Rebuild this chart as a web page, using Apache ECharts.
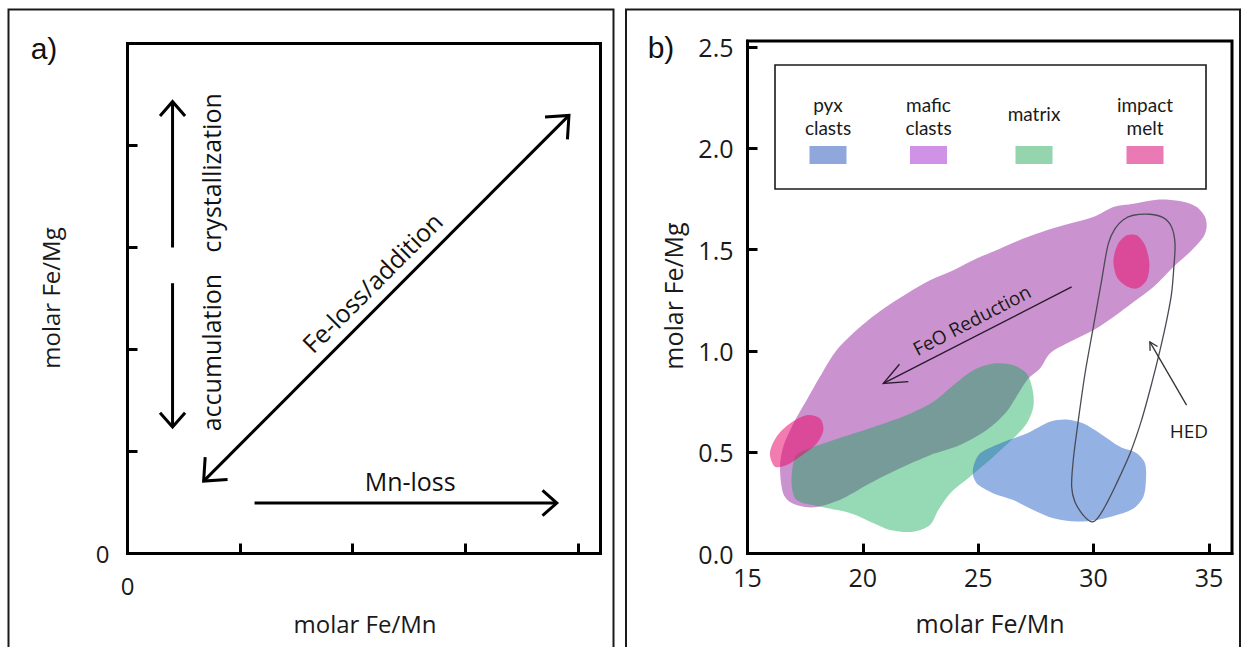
<!DOCTYPE html>
<html>
<head>
<meta charset="utf-8">
<script src="https://cdn.jsdelivr.net/npm/echarts@6/dist/echarts.min.js"></script>
<style>
  html, body { margin: 0; padding: 0; background: #fff; }
  #main { width: 1243px; height: 647px; }
</style>
</head>
<body>
<div id="main"></div>
<script>
// ---- panel a (schematic, axis units) ----
// arrows: x1, y1, x2, y2, double-headed?
var arrowsA = [
  [0.40, 3.00, 0.40, 4.43, 0],
  [0.40, 2.65, 0.40, 1.24, 0],
  [0.676, 0.71, 3.92, 4.295, 1],
  [1.128, 0.495, 3.812, 0.495, 0]
];
var notesA = ['crystallization', 'accumulation', 'Fe-loss/addition', 'Mn-loss'];
var notesAPos = [[0.74, 3.73], [0.74, 1.97], [2.17, 2.66], [2.51, 0.71]];
var notesAAngle = [90, 90, 45, 0];

// ---- panel b (molar Fe/Mn vs molar Fe/Mg) ----
var regionNames = ['pyx clasts', 'mafic clasts', 'matrix', 'impact melt'];

var maficClasts = [
  [34.90, 1.612], [34.76, 1.563], [34.18, 1.489], [33.46, 1.415], [32.59, 1.316],
  [31.73, 1.242], [30.86, 1.168], [30.00, 1.103], [28.98, 1.045], [28.11, 0.988],
  [27.68, 0.914], [27.17, 0.864], [26.74, 0.790], [26.23, 0.700], [25.37, 0.610],
  [24.21, 0.536], [22.91, 0.486], [21.61, 0.421], [20.31, 0.347], [19.15, 0.273],
  [18.14, 0.232], [17.49, 0.230], [16.84, 0.255], [16.54, 0.299], [16.41, 0.429],
  [16.55, 0.527], [16.99, 0.642], [17.56, 0.757], [18.14, 0.873], [18.86, 1.004],
  [19.88, 1.119], [20.89, 1.209], [21.90, 1.283], [22.91, 1.349], [23.92, 1.398],
  [24.93, 1.456], [25.94, 1.505], [26.96, 1.555], [27.97, 1.596], [28.98, 1.629],
  [29.99, 1.661], [30.86, 1.711], [31.73, 1.727], [32.74, 1.747], [33.75, 1.740],
  [34.47, 1.711], [34.83, 1.662]
];

var matrixArea = [
  [17.06, 0.478], [17.42, 0.508], [18.70, 0.560], [20.44, 0.624], [21.91, 0.684],
  [23.04, 0.748], [23.92, 0.831], [24.79, 0.905], [25.66, 0.938], [26.52, 0.930],
  [27.10, 0.889], [27.36, 0.807], [27.39, 0.725], [27.10, 0.642], [26.52, 0.569],
  [25.66, 0.478], [24.64, 0.379], [23.78, 0.297], [23.27, 0.215], [22.91, 0.141],
  [22.19, 0.108], [21.18, 0.117], [20.44, 0.151], [19.44, 0.200], [18.14, 0.232],
  [17.13, 0.264], [16.91, 0.347]
];

var pyxClasts = [
  [24.79, 0.429], [25.08, 0.495], [25.94, 0.544], [27.10, 0.593], [28.11, 0.651],
  [28.83, 0.662], [29.56, 0.642], [30.28, 0.593], [31.15, 0.527], [31.87, 0.495],
  [32.23, 0.445], [32.27, 0.363], [32.16, 0.281], [31.73, 0.223], [31.00, 0.190],
  [30.14, 0.166], [29.27, 0.158], [28.26, 0.174], [27.39, 0.215], [26.52, 0.264],
  [25.66, 0.297], [25.01, 0.338], [24.79, 0.379]
];

var impactMeltHigh = [
  [31.07, 1.530], [31.44, 1.571], [31.87, 1.571], [32.23, 1.522], [32.42, 1.431],
  [32.30, 1.349], [31.87, 1.308], [31.36, 1.325], [31.00, 1.366], [30.86, 1.448]
];
var impactMeltLow = [
  [15.97, 0.495], [16.26, 0.577], [16.84, 0.642], [17.56, 0.683], [18.14, 0.667],
  [18.29, 0.610], [18.00, 0.544], [17.27, 0.478], [16.70, 0.437], [16.19, 0.429]
];

var hedField = [
  [31.72, 1.670], [32.44, 1.675], [33.02, 1.658], [33.38, 1.612], [33.53, 1.530],
  [33.48, 1.415], [33.38, 1.283], [33.17, 1.152], [32.88, 1.004], [32.52, 0.840],
  [32.08, 0.659], [31.58, 0.494], [31.00, 0.347], [30.49, 0.231], [30.13, 0.169],
  [29.91, 0.157], [29.55, 0.190], [29.19, 0.256], [29.05, 0.330], [29.12, 0.462],
  [29.34, 0.659], [29.63, 0.889], [29.99, 1.119], [30.35, 1.349], [30.64, 1.530],
  [30.93, 1.604], [31.29, 1.648]
];

var feoArrow = [29.05, 1.316, 20.89, 0.840];
var feoLabel = [24.72, 1.152];
var hedArrow = [34.03, 0.733, 32.44, 1.045];
var hedLabel = [34.13, 0.606];

var xTicksA = [0, 4.2, 1];
var yTicksA = [0, 5, 1];
var xTicksB = [15, 36, 5];
var yTicksB = [0, 2.53, 0.5];

var FONT = '"Open Sans", "Noto Sans", sans-serif';

function arrowEl(p1, p2, len, lw, color, both, spread) {
  function head(tip, from) {
    var a = Math.atan2(tip[1] - from[1], tip[0] - from[0]);
    return {
      type: 'polyline',
      shape: { points: [
        [tip[0] - len * Math.cos(a - spread), tip[1] - len * Math.sin(a - spread)],
        tip,
        [tip[0] - len * Math.cos(a + spread), tip[1] - len * Math.sin(a + spread)]
      ] },
      style: { stroke: color, lineWidth: lw, fill: null, lineJoin: 'miter' }
    };
  }
  var kids = [
    { type: 'line', shape: { x1: p1[0], y1: p1[1], x2: p2[0], y2: p2[1] },
      style: { stroke: color, lineWidth: lw } },
    head(p2, p1)
  ];
  if (both) kids.push(head(p1, p2));
  return { type: 'group', children: kids };
}

function regionSeries(name, pts, fill, stroke, z) {
  return {
    name: name,
    type: 'custom',
    xAxisIndex: 1, yAxisIndex: 1,
    z: z, silent: true,
    data: pts,
    renderItem: function (params, api) {
      if (params.dataIndex !== 0) return null;
      var p = pts.map(function (d) { return api.coord(d); });
      return {
        type: 'polygon',
        shape: { points: p, smooth: 0.3 },
        style: stroke ? { fill: null, stroke: stroke, lineWidth: 1.3 } : { fill: fill }
      };
    }
  };
}

function axisCommon(grid, range, labelFn, margin, fontSize) {
  return {
    type: 'value', gridIndex: grid,
    min: range[0], max: range[1], interval: range[2],
    axisLine: { show: true, onZero: false, lineStyle: { color: '#000', width: 3 } },
    axisTick: { show: true, inside: true, length: 10, lineStyle: { color: '#000', width: 3 } },
    axisLabel: { formatter: labelFn, margin: margin, color: '#1a1a1a',
      fontSize: fontSize, fontFamily: FONT, showMaxLabel: false },
    splitLine: { show: false }
  };
}

var chart = echarts.init(document.getElementById('main'), null, { renderer: 'svg' });

var legendX = [828, 928.5, 1034, 1145];
var legendColors = ['#8fa7da', '#cf92e6', '#94d5ae', '#e97ab3'];
var legendLines = [['pyx', 'clasts'], ['mafic', 'clasts'], ['matrix'], ['impact', 'melt']];

var graphics = [
  { type: 'rect', shape: { x: 8.5, y: 9.5, width: 605, height: 700 },
    style: { fill: null, stroke: '#1a1a1a', lineWidth: 2 } },
  { type: 'rect', shape: { x: 626, y: 9.5, width: 614, height: 700 },
    style: { fill: null, stroke: '#1a1a1a', lineWidth: 2 } },
  { type: 'text', x: 44, y: 48, style: { text: 'a)', font: '30px "Liberation Sans", Arial, sans-serif',
    fill: '#111', align: 'center', verticalAlign: 'middle' } },
  { type: 'text', x: 661, y: 47, style: { text: 'b)', font: '30px "Liberation Sans", Arial, sans-serif',
    fill: '#111', align: 'center', verticalAlign: 'middle' } },
  { type: 'text', x: 365, y: 623, style: { text: 'molar Fe/Mn', font: '24px ' + FONT,
    fill: '#1a1a1a', align: 'center', verticalAlign: 'middle' } },
  { type: 'text', x: 50, y: 298, rotation: Math.PI / 2, style: { text: 'molar Fe/Mg', font: '24px ' + FONT,
    fill: '#1a1a1a', align: 'center', verticalAlign: 'middle' } },
  { type: 'text', x: 990, y: 623, style: { text: 'molar Fe/Mn', font: '25px ' + FONT,
    fill: '#1a1a1a', align: 'center', verticalAlign: 'middle' } },
  { type: 'text', x: 673, y: 296, rotation: Math.PI / 2, style: { text: 'molar Fe/Mg', font: '25px ' + FONT,
    fill: '#1a1a1a', align: 'center', verticalAlign: 'middle' } },
  { type: 'rect', shape: { x: 775, y: 65, width: 431, height: 124 },
    style: { fill: '#fff', stroke: '#1a1a1a', lineWidth: 1.6 } }
];
legendX.forEach(function (cx, i) {
  graphics.push({ type: 'rect', shape: { x: cx - 18.5, y: 146, width: 37, height: 18 },
    style: { fill: legendColors[i] } });
  var lines = legendLines[i];
  lines.forEach(function (t, k) {
    var y = lines.length === 1 ? 113.5 : 104 + k * 23.5;
    graphics.push({ type: 'text', x: cx, y: y,
      style: { text: t, font: '19px Lato, ' + FONT, fill: '#1a1a1a', align: 'center', verticalAlign: 'middle' } });
  });
});

var option = {
  backgroundColor: '#fff',
  animation: false,
  grid: [
    { left: 127.5, top: 43.5, width: 473, height: 510, show: true,
      borderColor: '#000', borderWidth: 3, containLabel: false },
    { left: 747.5, top: 41, width: 484.5, height: 512.6, show: true,
      borderColor: '#000', borderWidth: 3, containLabel: false }
  ],
  xAxis: [
    axisCommon(0, xTicksA, function (v) { return v === 0 ? '0' : ''; }, 20, 24),
    axisCommon(1, xTicksB, function (v) { return v % 5 === 0 ? String(v) : ''; }, 11, 25)
  ],
  yAxis: [
    axisCommon(0, yTicksA, function (v) { return v === 0 ? '0' : ''; }, 18, 24),
    axisCommon(1, yTicksB, function (v) {
      return Math.abs(v * 2 - Math.round(v * 2)) < 1e-6 ? v.toFixed(1) : '';
    }, 14, 25)
  ],
  graphic: graphics,
  series: [
    {
      name: 'process arrows', type: 'custom', xAxisIndex: 0, yAxisIndex: 0, silent: true,
      data: arrowsA,
      renderItem: function (params, api) {
        var p1 = api.coord([api.value(0), api.value(1)]);
        var p2 = api.coord([api.value(2), api.value(3)]);
        var diag = api.value(4) === 1;
        return arrowEl(p1, p2, diag ? 24 : 19, 3, '#000', diag, 0.72);
      }
    },
    {
      name: 'process notes', type: 'custom', xAxisIndex: 0, yAxisIndex: 0, silent: true,
      data: notesAPos,
      renderItem: function (params, api) {
        var p = api.coord([api.value(0), api.value(1)]);
        return { type: 'text', x: p[0], y: p[1],
          rotation: notesAAngle[params.dataIndex] * Math.PI / 180,
          style: { text: notesA[params.dataIndex], font: '25px ' + FONT, fill: '#111',
            align: 'center', verticalAlign: 'middle' } };
      }
    },
    regionSeries(regionNames[1], maficClasts, 'rgba(150,40,160,0.5)', null, 2),
    regionSeries(regionNames[2], matrixArea, 'rgba(5,168,78,0.42)', null, 3),
    regionSeries(regionNames[0], pyxClasts, 'rgba(40,100,200,0.5)', null, 4),
    regionSeries(regionNames[3], impactMeltHigh, 'rgba(231,15,109,0.55)', null, 5),
    regionSeries(regionNames[3] + ' 2', impactMeltLow, 'rgba(231,15,109,0.55)', null, 5),
    regionSeries('HED', hedField, null, '#4a4a55', 6),
    {
      name: 'annotations', type: 'custom', xAxisIndex: 1, yAxisIndex: 1, silent: true, z: 7,
      data: [feoArrow, hedArrow],
      renderItem: function (params, api) {
        var p1 = api.coord([api.value(0), api.value(1)]);
        var p2 = api.coord([api.value(2), api.value(3)]);
        if (params.dataIndex === 0) {
          var lp = api.coord(feoLabel);
          return { type: 'group', children: [
            arrowEl(p1, p2, 25, 1.4, '#2a1a2e', false, 0.4),
            { type: 'text', x: lp[0], y: lp[1], rotation: 27.5 * Math.PI / 180,
              style: { text: 'FeO Reduction', font: '19px ' + FONT, fill: '#1a1a1a',
                align: 'center', verticalAlign: 'middle' } }
          ] };
        }
        var hp = api.coord(hedLabel);
        return { type: 'group', children: [
          arrowEl(p1, p2, 9, 1.3, '#333', false, 0.5),
          { type: 'text', x: hp[0], y: hp[1],
            style: { text: 'HED', font: '19px ' + FONT, fill: '#1a1a1a',
              align: 'center', verticalAlign: 'middle' } }
        ] };
      }
    }
  ]
};
chart.setOption(option);
</script>
</body>
</html>
